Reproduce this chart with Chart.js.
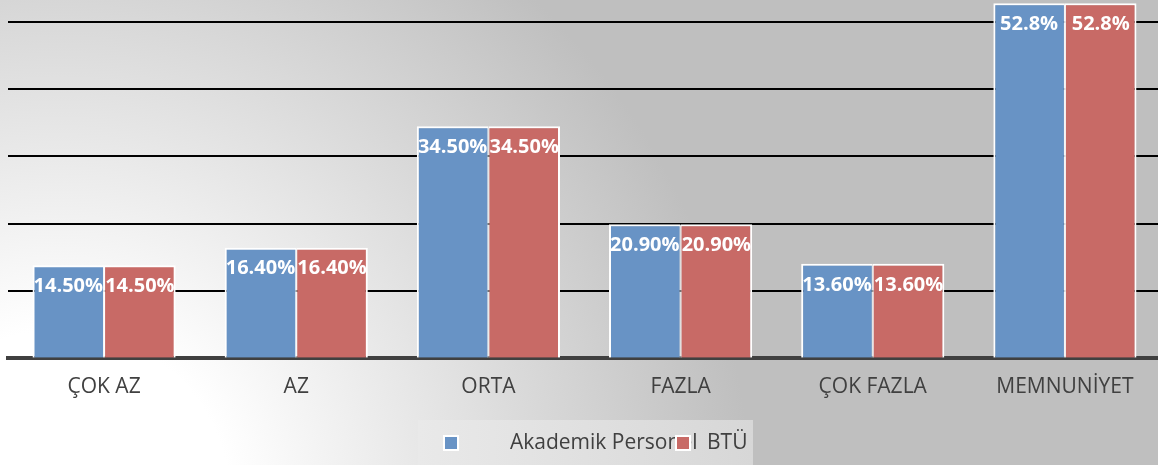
<!DOCTYPE html>
<html>
<head>
<meta charset="utf-8">
<script src="https://cdn.jsdelivr.net/npm/chart.js@4/dist/chart.umd.min.js"></script>
<style>
  html, body { margin: 0; padding: 0; overflow: hidden; background: #fff; }
  #wrap { position: relative; width: 1161px; height: 465px; }
</style>
</head>
<body>
<div id="wrap"><canvas id="memnuniyetChart"></canvas></div>
<script>
// kategoriler ve seriler
const categories = ['ÇOK AZ', 'AZ', 'ORTA', 'FAZLA', 'ÇOK FAZLA', 'MEMNUNİYET'];
const seriesNames = ['Akademik Personel', 'BTÜ'];
const akademikValues = [13.8, 16.4, 34.5, 19.9, 14.0, 52.8];
const btuValues = [13.8, 16.4, 34.5, 19.9, 14.0, 52.8];
const valueLabels = ['14.50%', '16.40%', '34.50%', '20.90%', '13.60%', '52.8%'];
const gridTicks = [10, 20, 30, 40, 50];

const BLUE = '#6893c5';
const RED = '#c86a66';
const TEXT = '#404040';

// arka plan: sol alttan griye giden gradyan
const backgroundPlugin = {
  id: 'bg',
  beforeDraw(chart) {
    const ctx = chart.ctx;
    const g = ctx.createRadialGradient(60, 500, 170, 60, 500, 690);
    g.addColorStop(0, '#ffffff');
    g.addColorStop(1, '#bfbfbf');
    ctx.save();
    ctx.fillStyle = g;
    ctx.fillRect(0, 0, chart.width, chart.height);
    ctx.restore();
  }
};

// çubuk üstü etiketler
const valueLabelPlugin = {
  id: 'valueLabels',
  afterDatasetsDraw(chart) {
    const ctx = chart.ctx;
    ctx.save();
    ctx.font = 'bold 20px "Open Sans"';
    ctx.fillStyle = '#ffffff';
    ctx.textAlign = 'center';
    ctx.textBaseline = 'middle';
    chart.data.datasets.forEach((ds, di) => {
      chart.getDatasetMeta(di).data.forEach((bar, i) => {
        ctx.fillText(valueLabels[i], bar.x, bar.y + 21);
      });
    });
    ctx.restore();
  }
};

// alttaki lejant kutusu
const legendPlugin = {
  id: 'customLegend',
  afterDraw(chart) {
    const ctx = chart.ctx;
    ctx.save();
    const box = ctx.createLinearGradient(418, 0, 753, 0);
    box.addColorStop(0, '#e9e9e9');
    box.addColorStop(1, '#d7d7d7');
    ctx.fillStyle = box;
    ctx.fillRect(418, 420, 335, 45);

    const square = (x, y, color) => {
      ctx.fillStyle = '#ffffff';
      ctx.fillRect(x - 1, y - 1, 16, 16);
      ctx.fillStyle = color;
      ctx.fillRect(x + 1, y + 1, 12, 12);
    };

    ctx.font = '21px "Open Sans"';
    ctx.fillStyle = TEXT;
    ctx.textBaseline = 'middle';
    ctx.textAlign = 'left';
    square(444, 436, chart.data.datasets[0].backgroundColor);
    ctx.fillStyle = TEXT;
    ctx.fillText(seriesNames[0], 510, 443);
    ctx.fillText(seriesNames[1], 707, 443);
    square(676, 436, chart.data.datasets[1].backgroundColor);
    ctx.restore();
  }
};

new Chart(document.getElementById('memnuniyetChart'), {
  type: 'bar',
  data: {
    labels: categories,
    datasets: [
      {
        label: seriesNames[0],
        data: akademikValues,
        backgroundColor: BLUE,
        borderColor: '#ffffff',
        borderWidth: { top: 2, left: 2, right: 1, bottom: 0 },
        borderSkipped: false,
      },
      {
        label: seriesNames[1],
        data: btuValues,
        backgroundColor: RED,
        borderColor: '#ffffff',
        borderWidth: { top: 2, left: 1, right: 2, bottom: 0 },
        borderSkipped: false,
      },
    ],
  },
  options: {
    responsive: true,
    maintainAspectRatio: false,
    animation: false,
    layout: { padding: { left: 8, right: 0, top: 0, bottom: 48 } },
    datasets: { bar: { categoryPercentage: 0.745, barPercentage: 1.0 } },
    plugins: {
      legend: { display: false },
      tooltip: { enabled: false },
    },
    scales: {
      x: {
        grid: { display: false, drawTicks: false },
        border: { display: true, color: '#404040', width: 4 },
        ticks: {
          color: TEXT,
          padding: 17,
          font: { family: '"Open Sans"', size: 21 },
          maxRotation: 0,
          autoSkip: false,
        },
      },
      y: {
        min: 0,
        max: 53.3,
        z: 1,
        afterBuildTicks(scale) {
          scale.ticks = gridTicks.map(v => ({ value: v }));
        },
        ticks: { display: false },
        border: { display: false },
        grid: { color: '#000000', lineWidth: 2, drawTicks: false },
      },
    },
  },
  plugins: [backgroundPlugin, valueLabelPlugin, legendPlugin],
});
</script>
</body>
</html>
